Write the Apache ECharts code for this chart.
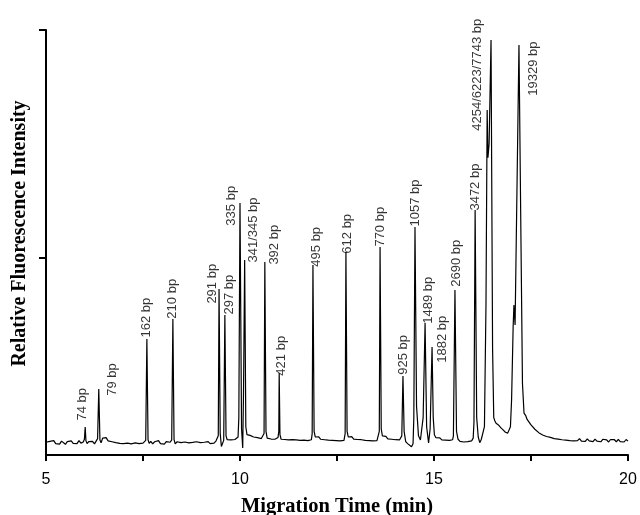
<!DOCTYPE html>
<html>
<head>
<meta charset="utf-8">
<script src="https://cdn.jsdelivr.net/npm/echarts@6/dist/echarts.min.js"></script>
<style>
  html, body { margin: 0; padding: 0; background: #fff; }
  #main { width: 640px; height: 515px; }
</style>
</head>
<body>
<div id="main"></div>
<script>
// electropherogram trace, [time (min), intensity (a.u.)]
var trace = [
  [5.00,19.2],[5.05,18.5],[5.10,19.6],[5.15,18.8],[5.20,19.9],[5.25,18.6],[5.30,19.3],[5.35,18.4],[5.40,19.7],[5.45,19.0],
  [5.50,18.3],[5.55,19.5],[5.60,18.9],[5.65,19.8],[5.70,18.7],[5.75,19.4],[5.80,18.6],[5.85,19.9],[5.90,18.8],[5.96,19.3],
  [5.99,20.5],[6.01,25.9],[6.03,19.8],[6.06,18.6],[6.10,19.5],[6.15,18.7],[6.20,19.6],[6.25,18.5],[6.30,19.2],
  [6.33,20.8],[6.36,42.5],[6.39,20.2],[6.42,19.0],[6.46,21.0],[6.50,20.3],[6.55,21.2],[6.60,19.8],[6.65,20.6],[6.70,19.4],
  [6.75,20.1],[6.80,19.0],[6.85,19.8],[6.90,18.7],[6.95,19.5],[7.00,18.6],[7.05,19.3],[7.10,18.8],[7.15,19.6],[7.20,18.5],
  [7.25,19.2],[7.30,18.9],[7.35,19.7],[7.40,18.6],[7.45,19.3],[7.50,18.8],[7.55,19.1],
  [7.57,20.0],[7.60,64.5],[7.63,20.3],[7.66,18.7],[7.70,19.6],[7.75,18.5],[7.80,19.4],[7.85,18.8],[7.90,19.9],[7.95,18.6],
  [8.00,19.3],[8.05,18.4],[8.10,19.5],[8.15,18.9],[8.20,19.2],
  [8.24,20.2],[8.27,73.2],[8.30,20.4],[8.33,18.5],[8.38,19.4],[8.43,18.7],[8.48,19.0],[8.53,18.3],[8.58,19.3],[8.63,18.6],
  [8.68,18.9],[8.73,18.2],[8.78,19.1],[8.83,18.5],[8.88,19.4],[8.93,18.6],[8.98,19.0],[9.03,18.4],[9.08,19.2],[9.13,18.7],
  [9.18,19.5],[9.23,18.6],[9.28,19.3],[9.33,18.8],[9.38,19.7],[9.42,19.4],
  [9.44,22.0],[9.46,86.4],[9.49,23.0],[9.52,17.3],
  [9.58,20.0],[9.61,75.0],[9.64,22.0],[9.67,20.3],[9.72,21.0],[9.77,20.2],[9.82,20.8],[9.87,20.4],[9.92,21.2],[9.95,21.5],
  [9.97,30.0],[10.00,124.1],[10.04,25.0],[10.07,16.7],
  [10.09,40.0],[10.12,99.1],[10.15,26.0],[10.18,22.5],[10.22,23.0],[10.26,22.2],[10.30,22.6],[10.35,21.5],[10.40,22.0],
  [10.45,21.2],[10.50,21.6],[10.55,20.8],[10.60,21.3],
  [10.62,23.0],[10.64,98.2],[10.67,24.0],[10.70,21.0],[10.75,21.7],[10.80,20.6],[10.85,21.2],[10.90,20.5],[10.95,21.0],[10.98,21.3],
  [11.00,24.0],[11.01,49.6],[11.03,22.5],[11.06,20.5],[11.10,21.3],[11.15,20.4],[11.20,21.0],[11.25,20.2],[11.30,20.9],
  [11.35,20.3],[11.40,21.1],[11.45,20.2],[11.50,20.7],[11.55,20.0],[11.60,20.8],[11.65,20.1],[11.70,20.6],[11.75,19.9],
  [11.80,20.7],[11.84,20.3],
  [11.86,23.0],[11.88,96.9],[11.91,24.0],[11.94,21.5],[11.98,21.0],[12.03,21.6],[12.08,20.5],[12.13,21.2],[12.18,20.3],
  [12.23,20.9],[12.28,20.1],[12.33,20.7],[12.38,20.0],[12.43,20.6],[12.48,19.9],[12.53,20.5],[12.58,19.8],[12.63,20.4],[12.68,20.0],
  [12.71,23.0],[12.73,102.6],[12.76,24.0],[12.79,21.5],[12.83,21.0],[12.88,21.7],[12.93,20.6],[12.98,21.2],[13.03,20.4],
  [13.08,21.0],[13.13,20.3],[13.18,20.8],[13.23,20.0],[13.28,20.6],[13.33,19.9],[13.38,20.5],[13.43,19.8],[13.48,20.3],
  [13.53,19.9],[13.57,20.4],
  [13.59,24.0],[13.61,104.8],[13.64,25.0],[13.67,22.0],[13.71,21.2],[13.76,21.8],[13.81,20.7],[13.86,21.3],[13.91,20.5],
  [13.96,21.0],[14.01,20.3],[14.06,20.8],[14.11,20.2],[14.15,20.6],
  [14.17,22.0],[14.20,48.2],[14.23,24.0],[14.27,19.5],[14.32,18.6],[14.37,19.4],[14.42,17.2],[14.46,18.5],
  [14.48,30.0],[14.51,113.6],[14.55,35.0],[14.60,22.0],[14.65,20.2],
  [14.72,30.0],[14.77,71.5],[14.81,26.0],[14.86,18.9],
  [14.90,25.0],[14.95,61.0],[14.98,30.0],[15.01,22.5],[15.05,21.2],[15.10,20.4],[15.15,21.1],[15.20,20.2],[15.25,20.9],
  [15.30,20.1],[15.35,20.7],[15.40,20.0],[15.45,20.6],[15.48,20.3],
  [15.50,22.0],[15.54,86.0],[15.58,24.0],[15.62,20.5],[15.67,19.6],[15.72,20.3],[15.77,19.3],[15.82,20.1],[15.87,19.5],
  [15.92,20.2],[15.97,19.8],[16.01,21.0],
  [16.03,28.0],[16.06,121.1],[16.10,30.0],[16.14,21.5],[16.18,19.0],[16.22,20.5],
  [16.26,21.0],[16.30,26.0],[16.34,80.0],[16.37,164.9],[16.39,144.0],[16.42,150.0],[16.47,195.6],[16.51,60.0],[16.54,30.0],
  [16.57,28.5],[16.60,27.5],[16.63,28.2],[16.66,26.8],[16.69,27.0],[16.72,25.6],[16.75,25.9],[16.78,24.6],[16.81,24.9],
  [16.84,23.6],[16.87,24.0],[16.90,23.2],[16.94,23.8],
  [16.97,26.0],[17.00,38.0],[17.04,70.0],[17.06,79.4],[17.09,70.6],[17.13,120.0],[17.19,193.4],[17.24,110.0],[17.28,45.0],
  [17.32,32.0],[17.36,31.0],[17.40,29.2],[17.45,28.6],[17.50,26.8],[17.55,26.3],[17.60,24.9],[17.65,24.6],[17.70,23.4],
  [17.75,23.6],[17.80,22.4],[17.85,22.8],[17.90,21.7],[17.95,22.2],[18.00,21.3],[18.05,21.8],[18.10,20.8],[18.15,21.5],
  [18.20,20.6],[18.25,21.2],[18.30,20.3],[18.35,21.0],[18.40,20.1],[18.45,20.9],[18.50,19.9],[18.55,20.7],[18.60,19.8],
  [18.65,20.6],[18.70,19.9],[18.75,20.8],[18.80,19.7],[18.85,20.5],[18.90,19.6],[18.95,20.7],[19.00,19.8],[19.05,20.4],
  [19.10,19.5],[19.15,20.6],[19.20,19.7],[19.25,20.3],[19.30,19.4],[19.35,20.5],[19.40,19.8],[19.45,20.2],[19.50,19.3],
  [19.55,20.4],[19.60,19.6],[19.65,20.3],[19.70,19.4],[19.75,20.5],[19.80,19.5],[19.85,20.2],[19.90,19.3],[19.95,20.4],[20.00,19.7]
];

// peak annotations: text, and where each vertical label starts (time, intensity)
var peakNames = ['74 bp','79 bp','162 bp','210 bp','291 bp','297 bp','335 bp','341/345 bp','392 bp','421 bp',
  '495 bp','612 bp','770 bp','925 bp','1057 bp','1489 bp','1882 bp','2690 bp','3472 bp','4254/6223/7743 bp','19329 bp'];
var labelTimes = [5.95,6.70,7.60,8.27,9.28,9.74,9.79,10.34,10.88,11.08,
  11.96,12.78,13.63,14.20,14.51,14.85,15.21,15.57,16.06,16.13,17.55];
var labelLevels = [28.7,39.6,65.1,73.4,80.0,75.2,114.2,98.0,97.1,48.4,
  96.2,101.9,105.0,48.8,113.8,71.2,54.1,87.4,120.8,155.8,171.2];

var xTicks = [5, 10, 15, 20];
var yTicks = [100, 200];

var labelData = [];
for (var i = 0; i < peakNames.length; i++) {
  labelData.push([labelTimes[i], labelLevels[i], peakNames[i]]);
}

var chart = echarts.init(document.getElementById('main'));
var option = {
  animation: false,
  backgroundColor: '#fff',
  grid: { left: 46, right: 12, top: 30, bottom: 60, outerBoundsMode: 'none' },
  xAxis: {
    type: 'value',
    min: 5, max: 20, interval: 2.5,
    name: 'Migration Time (min)',
    nameLocation: 'middle',
    nameGap: 41,
    nameTextStyle: { fontFamily: 'Liberation Serif', fontWeight: 'bold', fontSize: 20.5, color: '#000' },
    axisLine: { lineStyle: { color: '#000', width: 2 } },
    axisTick: { inside: false, length: 6, lineStyle: { color: '#000', width: 2 } },
    axisLabel: {
      margin: 17, fontFamily: 'Liberation Sans', fontSize: 16, color: '#000',
      formatter: function (v) { return xTicks.indexOf(v) >= 0 ? String(v) : ''; }
    },
    splitLine: { show: false }
  },
  yAxis: {
    type: 'value',
    min: 13.6, max: 200,
    name: 'Relative Fluorescence Intensity',
    nameLocation: 'middle',
    nameGap: 16,
    nameTextStyle: {
      fontFamily: 'Liberation Serif', fontWeight: 'bold', fontSize: 20, color: '#000',
      padding: [0, 0, 0, 18]
    },
    axisLine: { show: true, lineStyle: { color: '#000', width: 2 } },
    axisTick: { show: true, length: 7, customValues: yTicks, lineStyle: { color: '#000', width: 2 } },
    axisLabel: { show: false },
    splitLine: { show: false }
  },
  series: [
    {
      type: 'line',
      data: trace,
      showSymbol: false,
      symbol: 'none',
      lineStyle: { color: '#000', width: 1.2 },
      silent: true
    },
    {
      type: 'scatter',
      data: labelData,
      symbolSize: 1,
      itemStyle: { color: 'rgba(0,0,0,0)' },
      silent: true,
      label: {
        show: true,
        position: 'inside',
        rotate: 90,
        align: 'left',
        verticalAlign: 'middle',
        fontFamily: 'Liberation Sans',
        fontSize: 13,
        color: '#000',
        formatter: function (p) { return p.data[2]; }
      }
    }
  ]
};
chart.setOption(option);
</script>
</body>
</html>
